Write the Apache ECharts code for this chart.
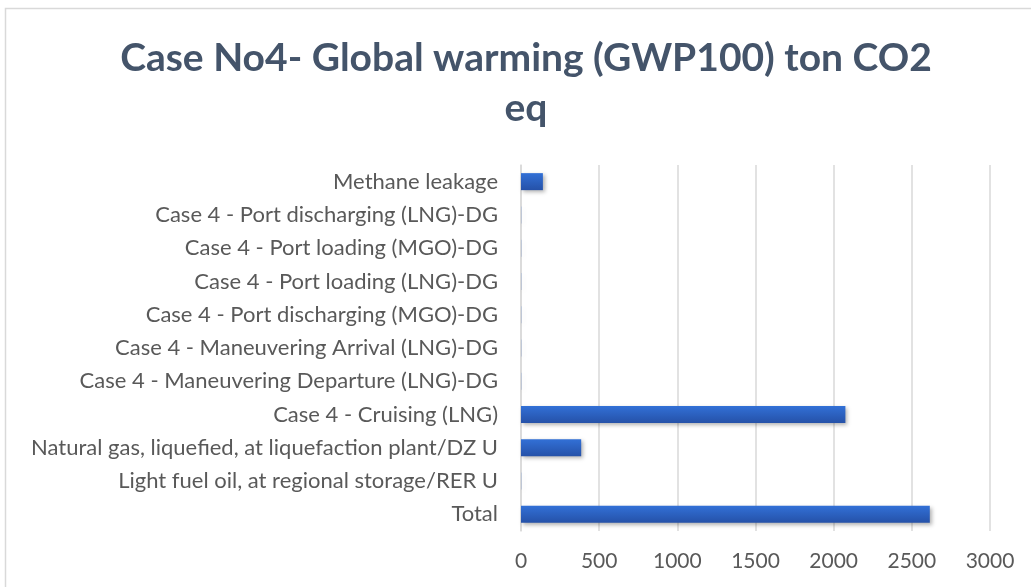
<!DOCTYPE html>
<html>
<head>
<meta charset="utf-8">
<script src="https://cdn.jsdelivr.net/npm/echarts@6/dist/echarts.min.js"></script>
<style>
html, body { margin: 0; padding: 0; background: #ffffff; }
#chart { width: 1031px; height: 587px; }
</style>
</head>
<body>
<div id="chart"></div>
<script>
// Categories listed bottom-to-top, as in the worksheet
const categories = [
  'Total',
  'Light fuel oil, at regional storage/RER U',
  'Natural gas, liquefied, at liquefaction plant/DZ U',
  'Case 4 - Cruising (LNG)',
  'Case 4 - Maneuvering Departure (LNG)-DG',
  'Case 4 - Maneuvering Arrival (LNG)-DG',
  'Case 4 - Port discharging (MGO)-DG',
  'Case 4 - Port loading (LNG)-DG',
  'Case 4 - Port loading (MGO)-DG',
  'Case 4 - Port discharging (LNG)-DG',
  'Methane leakage'
];
// GWP100, ton CO2 eq
const values = [2615, 1, 385, 2075, 1, 1, 1, 1, 1, 1, 140];
const xTicks = [0, 500, 1000, 1500, 2000, 2500, 3000];

const chart = echarts.init(document.getElementById('chart'));
const textColor = '#595959';
const font = 'Lato, "Open Sans", sans-serif';

chart.setOption({
  animation: false,
  backgroundColor: '#ffffff',
  graphic: [{
    type: 'rect',
    shape: { x: 5.5, y: 8.5, width: 1040, height: 600 },
    style: { fill: 'none', stroke: '#d9d9d9', lineWidth: 1.5 },
    silent: true
  }],
  title: {
    text: 'Case No4- Global warming (GWP100) ton CO2\neq',
    left: 521,
    textAlign: 'center',
    top: 28,
    textStyle: {
      fontFamily: font,
      fontSize: 39,
      fontWeight: 'bold',
      color: '#44546a',
      lineHeight: 50
    }
  },
  grid: { left: 521, right: 41, top: 165, bottom: 56 },
  xAxis: {
    type: 'value',
    min: xTicks[0],
    max: xTicks[xTicks.length - 1],
    interval: xTicks[1] - xTicks[0],
    axisLine: { show: false },
    axisTick: { show: false },
    axisLabel: {
      color: textColor, fontFamily: font, fontSize: 21, margin: 20,
      formatter: (v) => String(v)
    },
    splitLine: { lineStyle: { color: '#d9d9d9', width: 1.5 } }
  },
  yAxis: {
    type: 'category',
    data: categories,
    axisLine: { show: true, lineStyle: { color: '#d9d9d9', width: 1.5 } },
    axisTick: { show: false },
    axisLabel: { color: textColor, fontFamily: font, fontSize: 22, margin: 23 }
  },
  series: [{
    type: 'bar',
    data: values,
    barWidth: 17,
    itemStyle: {
      color: new echarts.graphic.LinearGradient(0, 0, 0, 1, [
        { offset: 0, color: '#3270d6' },
        { offset: 1, color: '#2551a8' }
      ]),
      shadowColor: 'rgba(0,0,0,0.3)',
      shadowBlur: 4,
      shadowOffsetX: 2,
      shadowOffsetY: 2
    }
  }]
});
</script>
</body>
</html>
